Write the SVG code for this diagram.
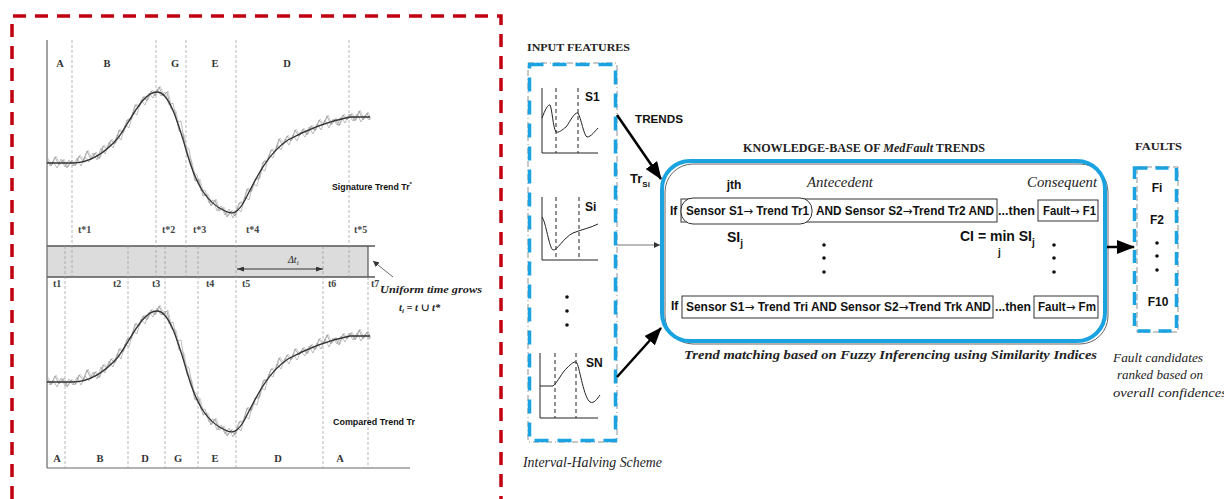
<svg xmlns="http://www.w3.org/2000/svg" xmlns:xlink="http://www.w3.org/1999/xlink" width="1224" height="499" viewBox="0 0 1224 499">
<style>
.serif{font-family:"Liberation Serif","DejaVu Serif",serif;fill:#222}
.sans{font-family:"Liberation Sans","DejaVu Sans",sans-serif;font-weight:bold;fill:#111}
.ar{font-family:"DejaVu Sans",sans-serif;font-weight:normal}
.lbl{font-family:"Liberation Serif",serif;font-size:10.5px;font-weight:bold;fill:#333}
.tl{font-family:"Liberation Serif",serif;font-size:10px;font-weight:bold;fill:#444}
.vd{stroke:#999;stroke-width:0.7;stroke-dasharray:3 2;fill:none}
.ax{stroke:#666;stroke-width:1.2;fill:none}
.smooth{stroke:#333;stroke-width:1.3;fill:none}
.noise{stroke:#999;stroke-width:0.8;fill:none}
.mini{stroke:#222;stroke-width:1;fill:none}
.minid{stroke:#222;stroke-width:1;stroke-dasharray:4 3;fill:none}
.blue{stroke:#1aa3e0;fill:none}
.box{stroke:#333;stroke-width:1;fill:none}
.it{font-family:"Liberation Serif","DejaVu Serif",serif;font-style:italic;fill:#222}
</style>
<defs>
<marker id="bigArrow" markerUnits="userSpaceOnUse" markerWidth="18" markerHeight="14" refX="17" refY="7" orient="auto">
<path d="M0,0 L18,7 L0,14 z" fill="#000"/>
</marker>
<marker id="smallArrow" markerUnits="userSpaceOnUse" markerWidth="6" markerHeight="6" refX="6" refY="3" orient="auto">
<path d="M0,0 L6,3 L0,6 z" fill="#333"/>
</marker>
<marker id="tinyArrow" markerUnits="userSpaceOnUse" markerWidth="7" markerHeight="5" refX="7" refY="2.5" orient="auto-start-reverse">
<path d="M0,0 L7,2.5 L0,5 z" fill="#333"/>
</marker>
<g id="trendCurve">
<polyline id="nz" class="noise" points="47,159 51,166 55,157 59,165 63,160 67,168 71,161 75,166 79,156 83,161 87,151 91,160 95,153 99,159 103,146 107,149 111,140 115,144 119,130 123,133 127,120 131,120 135,105 139,107 143,97 147,101 151,91 155,96 159,87 163,96 167,92 171,109 175,112 179,131 183,135 187,155 191,163 195,181 199,180 203,196 207,195 211,206 215,200 219,211 223,208 227,217 231,211 235,216 239,203 243,203 247,189 251,192 255,179 259,179 263,162 267,161 271,150 275,152 279,139 283,145 287,136 291,141 295,130 299,136 303,129 307,135 311,126 315,131 319,120 323,125 327,116 331,125 335,119 339,126 343,115 347,120 351,114 355,121 359,111 363,120 367,113 370,120"/>
<polyline class="noise" transform="translate(2,1)" opacity="0.8" points="47,165 51,160 55,167 59,158 63,166 67,159 71,165 75,157 79,165 83,156 87,161 91,152 95,159 99,147 103,153 107,141 111,147 115,134 119,139 123,124 127,127 131,111 135,114 139,99 143,104 147,92 151,97 155,88 159,95 163,91 167,104 171,102 175,121 179,120 183,145 187,148 191,170 195,174 199,190 203,189 207,202 211,199 215,210 219,205 223,214 227,208 231,217 235,207 239,211 243,196 247,199 251,183 255,185 259,168 263,170 267,154 271,157 275,144 279,149 283,138 287,144 291,134 295,140 299,131 303,136 307,126 311,133 315,123 319,129 323,119 327,127 331,118 335,124 339,116 343,122 347,113 351,120 355,113 359,121 363,114 367,119"/>
<use xlink:href="#nz" transform="translate(1,-1)" opacity="0.6"/>
<path class="smooth" d="M47,163 L72,163 C90,163 105,153 118,138 C130,122 142,92 157,92 C168,92 176,115 187,153 C196,185 207,203 225,211 C233,215 238,213 245,200 C256,178 268,153 288,140 C310,128 330,121 350,117 L370,117"/>
</g>
</defs>

<rect width="1224" height="499" fill="#fff"/>

<path d="M12,499 V16 H501 V499" fill="none" stroke="#c00010" stroke-width="3.5" stroke-dasharray="13 9"/>

<g id="trend-comparison">
<rect x="47" y="246" width="321" height="31" fill="#dcdcdc"/>
<line x1="47" y1="246" x2="375" y2="246" stroke="#555" stroke-width="1.5"/>
<line x1="47" y1="277" x2="375" y2="277" stroke="#555" stroke-width="1.5"/>
<line x1="368" y1="246" x2="368" y2="277" stroke="#555" stroke-width="1.2"/>
<line class="ax" x1="47" y1="40" x2="47" y2="468"/>
<line class="ax" x1="47" y1="468" x2="410" y2="468"/>
<line class="vd" x1="72" y1="40" x2="72" y2="277"/>
<line class="vd" x1="156" y1="40" x2="156" y2="277"/>
<line class="vd" x1="186" y1="40" x2="186" y2="277"/>
<line class="vd" x1="236" y1="40" x2="236" y2="468"/>
<line class="vd" x1="349" y1="40" x2="349" y2="277"/>
<line class="vd" x1="65" y1="246" x2="65" y2="468"/>
<line class="vd" x1="128" y1="246" x2="128" y2="468"/>
<line class="vd" x1="165" y1="246" x2="165" y2="468"/>
<line class="vd" x1="198" y1="246" x2="198" y2="468"/>
<line class="vd" x1="323" y1="246" x2="323" y2="468"/>
<line class="vd" x1="368" y1="277" x2="368" y2="468"/>
<use xlink:href="#trendCurve"/>
<use xlink:href="#trendCurve" transform="translate(0,219)"/>
<text class="lbl" x="60" y="67" text-anchor="middle">A</text>
<text class="lbl" x="107" y="67" text-anchor="middle">B</text>
<text class="lbl" x="175" y="67" text-anchor="middle">G</text>
<text class="lbl" x="215" y="67" text-anchor="middle">E</text>
<text class="lbl" x="287" y="67" text-anchor="middle">D</text>
<text class="sans" x="332" y="190" font-size="8.5" textLength="80" lengthAdjust="spacingAndGlyphs" fill="#333">Signature Trend Tr<tspan font-size="6" dy="-4">*</tspan></text>
<text class="tl" x="78" y="233">t*1</text>
<text class="tl" x="162" y="233">t*2</text>
<text class="tl" x="193" y="233">t*3</text>
<text class="tl" x="246" y="233">t*4</text>
<text class="tl" x="354" y="233">t*5</text>
<line x1="237" y1="269" x2="323" y2="269" stroke="#333" stroke-width="1" marker-start="url(#tinyArrow)" marker-end="url(#tinyArrow)"/>
<text class="it" x="288" y="263" font-size="10">Δt<tspan font-size="7" dy="2">i</tspan></text>
<text class="tl" x="53" y="287">t1</text>
<text class="tl" x="113" y="287">t2</text>
<text class="tl" x="152" y="287">t3</text>
<text class="tl" x="206" y="287">t4</text>
<text class="tl" x="242" y="287">t5</text>
<text class="tl" x="328" y="287">t6</text>
<text class="tl" x="371" y="287">t7</text>
<line x1="393" y1="277" x2="373" y2="261" stroke="#444" stroke-width="0.8" marker-end="url(#smallArrow)"/>
<text class="it" x="380" y="293" font-size="10.5" font-weight="bold" textLength="102" lengthAdjust="spacingAndGlyphs" fill="#444">Uniform time grows</text>
<text class="it" x="399" y="311" font-size="10.5" font-weight="bold" fill="#444">t<tspan font-size="7" dy="2">i</tspan><tspan dy="-2"> = t ∪ t*</tspan></text>
<text class="sans" x="333" y="425" font-size="8.5" textLength="82" lengthAdjust="spacingAndGlyphs" fill="#333">Compared Trend Tr</text>
<text class="lbl" x="57" y="462" text-anchor="middle">A</text>
<text class="lbl" x="100" y="462" text-anchor="middle">B</text>
<text class="lbl" x="145" y="462" text-anchor="middle">D</text>
<text class="lbl" x="178" y="462" text-anchor="middle">G</text>
<text class="lbl" x="215" y="462" text-anchor="middle">E</text>
<text class="lbl" x="278" y="462" text-anchor="middle">D</text>
<text class="lbl" x="340" y="462" text-anchor="middle">A</text>
</g>

<g id="input-features">
<text class="serif" x="527" y="51" font-size="11" font-weight="bold" textLength="103" lengthAdjust="spacingAndGlyphs">INPUT FEATURES</text>
<rect x="528" y="63" width="89" height="379" fill="none" stroke="#777" stroke-width="0.8" stroke-dasharray="6 3 1 3"/>
<rect class="blue" x="529.5" y="64.5" width="86" height="376" stroke-width="3.5" stroke-dasharray="14 9"/>
<polyline class="mini" points="542,88 542,153 598,153"/>
<line class="minid" x1="556" y1="88" x2="556" y2="153"/>
<line class="minid" x1="578" y1="88" x2="578" y2="153"/>
<path class="mini" d="M542,118 C545,110 548,104 550,105 C552,108 553,128 556,132 C559,133 562,130 566,127 C570,122 574,112 578,113 C581,118 584,136 587,137 C591,137 595,131 598,128"/>
<text class="sans" x="585" y="101" font-size="12">S1</text>
<polyline class="mini" points="542,197 542,260 598,260"/>
<line class="minid" x1="556" y1="197" x2="556" y2="260"/>
<line class="minid" x1="579" y1="197" x2="579" y2="260"/>
<path class="mini" d="M542,217 C546,222 549,248 553,250 C557,251 563,238 573,233 C583,229 590,228 598,224"/>
<text class="sans" x="585" y="211" font-size="12">Si</text>
<circle cx="567" cy="297" r="1.8" fill="#111"/>
<circle cx="567" cy="311" r="1.8" fill="#111"/>
<circle cx="567" cy="325" r="1.8" fill="#111"/>
<polyline class="mini" points="540,353 540,418 598,418"/>
<line class="minid" x1="555" y1="353" x2="555" y2="418"/>
<line class="minid" x1="576" y1="353" x2="576" y2="418"/>
<path class="mini" d="M540,386 L553,386 C558,382 562,372 567,368 C571,364 575,360 577,363 C580,370 584,398 590,402 C594,404 597,399 600,395"/>
<text class="sans" x="586" y="367" font-size="12">SN</text>
<text class="it" x="523" y="467" font-size="14" textLength="139" lengthAdjust="spacingAndGlyphs">Interval-Halving Scheme</text>
</g>

<g id="knowledge-base">
<text class="serif" x="743" y="152" font-size="11.5" font-weight="bold" textLength="242" lengthAdjust="spacingAndGlyphs">KNOWLEDGE-BASE OF <tspan font-style="italic">MedFault</tspan> TRENDS</text>
<rect x="665" y="164" width="443" height="180" rx="28" fill="none" stroke="#666" stroke-width="1"/>
<rect class="blue" x="662" y="161" width="443" height="180" rx="28" stroke-width="4" fill="#fff"/>
<text class="sans" x="734" y="189" font-size="12" text-anchor="middle">jth</text>
<text class="it" x="807" y="187" font-size="14" textLength="66" lengthAdjust="spacingAndGlyphs">Antecedent</text>
<text class="it" x="1027" y="187" font-size="14" textLength="70" lengthAdjust="spacingAndGlyphs">Consequent</text>
<text class="sans" x="670" y="215" font-size="12">If</text>
<rect class="box" x="681" y="199" width="316" height="23"/>
<rect x="681" y="198" width="131" height="26" rx="12" fill="#fff" stroke="#333" stroke-width="1"/>
<text class="sans" x="686" y="215" font-size="12" textLength="123" lengthAdjust="spacingAndGlyphs">Sensor S1<tspan class="ar">→</tspan> Trend Tr1</text>
<text class="sans" x="816" y="215" font-size="12" textLength="178" lengthAdjust="spacingAndGlyphs">AND Sensor S2<tspan class="ar">→</tspan>Trend Tr2 AND</text>
<text class="sans" x="998" y="215" font-size="12" textLength="37" lengthAdjust="spacingAndGlyphs">...then</text>
<rect class="box" x="1038" y="200" width="60" height="21"/>
<text class="sans" x="1043" y="215" font-size="12" textLength="53" lengthAdjust="spacingAndGlyphs">Fault<tspan class="ar">→</tspan> F1</text>
<text class="sans" x="727" y="242" font-size="14">SI<tspan font-size="10" dy="5">j</tspan></text>
<text class="sans" x="960" y="241" font-size="14">CI = min SI<tspan font-size="10" dy="5">j</tspan></text>
<text class="sans" x="998" y="256" font-size="10">j</text>
<circle cx="824" cy="245" r="1.8" fill="#111"/>
<circle cx="824" cy="258" r="1.8" fill="#111"/>
<circle cx="824" cy="272" r="1.8" fill="#111"/>
<circle cx="1054" cy="245" r="1.8" fill="#111"/>
<circle cx="1054" cy="258" r="1.8" fill="#111"/>
<circle cx="1054" cy="272" r="1.8" fill="#111"/>
<text class="sans" x="671" y="310" font-size="12">If</text>
<rect class="box" x="682" y="296" width="311" height="22"/>
<text class="sans" x="686" y="311" font-size="12" textLength="305" lengthAdjust="spacingAndGlyphs">Sensor S1<tspan class="ar">→</tspan> Trend Tri AND Sensor S2<tspan class="ar">→</tspan>Trend Trk AND</text>
<text class="sans" x="995" y="311" font-size="12" textLength="36" lengthAdjust="spacingAndGlyphs">...then</text>
<rect class="box" x="1034" y="296" width="64" height="22"/>
<text class="sans" x="1038" y="311" font-size="12" textLength="58" lengthAdjust="spacingAndGlyphs">Fault<tspan class="ar">→</tspan> Fm</text>
<text class="it" x="684" y="359" font-size="13.5" font-weight="bold" textLength="413" lengthAdjust="spacingAndGlyphs">Trend matching based on Fuzzy Inferencing using Similarity Indices</text>
</g>

<g id="faults">
<text class="serif" x="1135" y="150" font-size="11" font-weight="bold" textLength="47" lengthAdjust="spacingAndGlyphs">FAULTS</text>
<rect x="1137" y="167" width="41" height="165" fill="none" stroke="#777" stroke-width="0.8" stroke-dasharray="6 3"/>
<rect class="blue" x="1134.5" y="168" width="42" height="163" stroke-width="3.5" stroke-dasharray="13 8"/>
<text class="sans" x="1157" y="192" font-size="12" text-anchor="middle">Fi</text>
<text class="sans" x="1157" y="224" font-size="12" text-anchor="middle">F2</text>
<circle cx="1157" cy="243" r="1.8" fill="#111"/>
<circle cx="1157" cy="256" r="1.8" fill="#111"/>
<circle cx="1157" cy="270" r="1.8" fill="#111"/>
<text class="sans" x="1158" y="306" font-size="12" text-anchor="middle">F10</text>
<text class="it" x="1113" y="362" font-size="13.5" textLength="90" lengthAdjust="spacingAndGlyphs">Fault candidates</text>
<text class="it" x="1117" y="379" font-size="13.5" textLength="86" lengthAdjust="spacingAndGlyphs">ranked based on</text>
<text class="it" x="1113" y="397" font-size="13.5" textLength="114" lengthAdjust="spacingAndGlyphs">overall confidences</text>
</g>

<g id="connectors">
<line x1="617" y1="115" x2="661" y2="179" stroke="#000" stroke-width="2.5" marker-end="url(#bigArrow)"/>
<line x1="617" y1="245" x2="660" y2="245" stroke="#777" stroke-width="1.2" marker-end="url(#smallArrow)"/>
<line x1="617" y1="377" x2="661" y2="328" stroke="#000" stroke-width="2.5" marker-end="url(#bigArrow)"/>
<line x1="1107" y1="247" x2="1134" y2="247" stroke="#000" stroke-width="2.5" marker-end="url(#bigArrow)"/>
<text class="sans" x="635" y="123" font-size="11" textLength="48" lengthAdjust="spacingAndGlyphs">TRENDS</text>
<text class="sans" x="630" y="183" font-size="13">Tr<tspan font-size="8" dy="4">Si</tspan></text>
</g>
</svg>
